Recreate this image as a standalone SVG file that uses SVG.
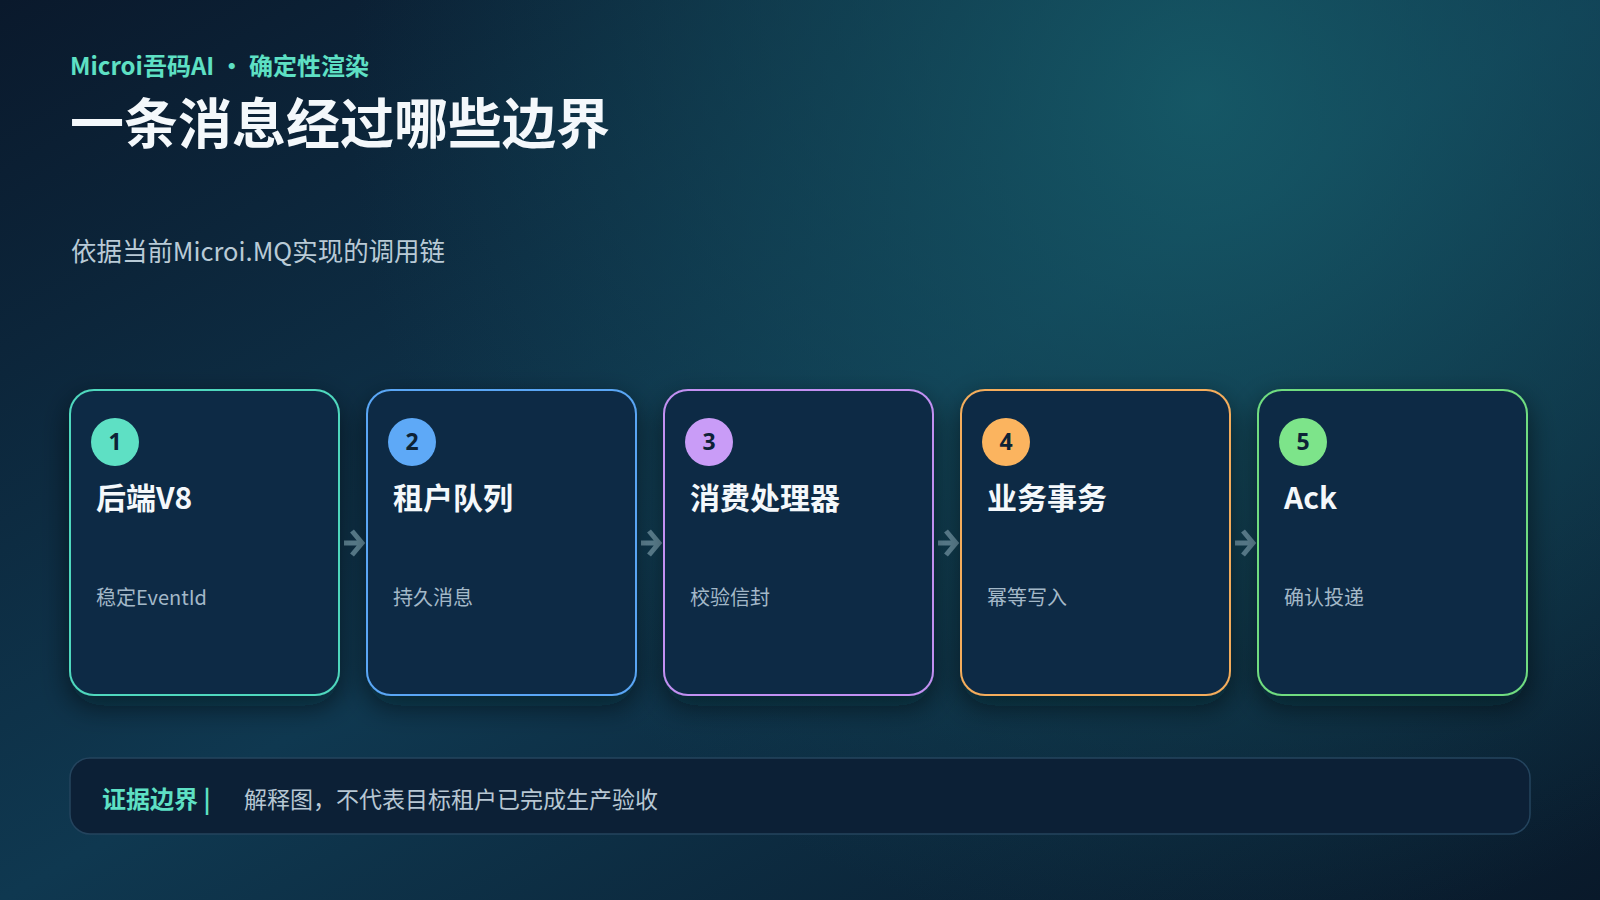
<svg xmlns="http://www.w3.org/2000/svg" width="1600" height="900" viewBox="0 0 1600 900">
  <defs>
    <linearGradient id="bg" x1="0" y1="0" x2="1" y2="1">
      <stop offset="0" stop-color="#0a192c"/>
      <stop offset="0.5" stop-color="#0f3850"/>
      <stop offset="1" stop-color="#09192a"/>
    </linearGradient>
    <radialGradient id="glow" cx="1200" cy="100" r="850" gradientUnits="userSpaceOnUse">
      <stop offset="0" stop-color="#17606c" stop-opacity="0.8"/>
      <stop offset="0.55" stop-color="#14505f" stop-opacity="0.45"/>
      <stop offset="1" stop-color="#124a5a" stop-opacity="0"/>
    </radialGradient>
    <filter id="shadow" x="-20%" y="-20%" width="140%" height="140%">
      <feDropShadow dx="0" dy="10" stdDeviation="14" flood-color="#020a14" flood-opacity="0.55"/>
    </filter>
    <style>
      .cjk { font-family: "Noto Sans CJK SC", "Noto Sans", sans-serif; }
      .card { fill: #0c2b45; stroke-width: 2; filter: url(#shadow); }
      .num { font-family: "Noto Sans", "Noto Sans CJK SC", sans-serif; font-weight: 700; font-size: 23px; fill: #0d2236; text-anchor: middle; }
      .title { font-family: "Noto Sans CJK SC", "Noto Sans", sans-serif; font-weight: 700; font-size: 30px; fill: #f4f8fb; }
      .sub { font-family: "Noto Sans CJK SC", "Noto Sans", sans-serif; font-size: 20px; fill: #a3b8c8; }
      .arrow { fill: none; stroke: #6790a2; stroke-width: 5; stroke-linecap: butt; stroke-linejoin: miter; }
    </style>
  </defs>

  <rect width="1600" height="900" fill="url(#bg)"/>
  <rect width="1600" height="900" fill="url(#glow)"/>

  <g id="header">
    <text x="70" y="75" class="cjk" font-size="24" font-weight="700" fill="#5ee0c4">Microi吾码AI • 确定性渲染</text>
    <text x="70" y="144" class="cjk" font-size="54" font-weight="700" fill="#f4f8fb">一条消息经过哪些边界</text>
    <text x="71" y="261" class="cjk" font-size="26" fill="#b9cad6" textLength="374" lengthAdjust="spacingAndGlyphs">依据当前Microi.MQ实现的调用链</text>
  </g>

  <g id="connectors">
    <g class="arrow">
      <path d="M344 543 H361 M352 531 L362 543 L352 555"/>
      <path d="M641 543 H658 M649 531 L659 543 L649 555"/>
      <path d="M938 543 H955 M946 531 L956 543 L946 555"/>
      <path d="M1235 543 H1252 M1243 531 L1253 543 L1243 555"/>
    </g>
  </g>

  <g id="node1">
    <rect class="card" x="70" y="390" width="269" height="305" rx="24" stroke="#4fd8be"/>
    <circle cx="115" cy="442" r="24" fill="#5ee0c4"/>
    <text x="115" y="450" class="num">1</text>
    <text x="96" y="509" class="title">后端V8</text>
    <text x="96" y="605" class="sub">稳定EventId</text>
  </g>

  <g id="node2">
    <rect class="card" x="367" y="390" width="269" height="305" rx="24" stroke="#5aa6f5"/>
    <circle cx="412" cy="442" r="24" fill="#5ea9f7"/>
    <text x="412" y="450" class="num">2</text>
    <text x="393" y="509" class="title">租户队列</text>
    <text x="393" y="605" class="sub">持久消息</text>
  </g>

  <g id="node3">
    <rect class="card" x="664" y="390" width="269" height="305" rx="24" stroke="#c290f2"/>
    <circle cx="709" cy="442" r="24" fill="#c99cf7"/>
    <text x="709" y="450" class="num">3</text>
    <text x="690" y="509" class="title">消费处理器</text>
    <text x="690" y="605" class="sub">校验信封</text>
  </g>

  <g id="node4">
    <rect class="card" x="961" y="390" width="269" height="305" rx="24" stroke="#f5ad5c"/>
    <circle cx="1006" cy="442" r="24" fill="#fbb45f"/>
    <text x="1006" y="450" class="num">4</text>
    <text x="987" y="509" class="title">业务事务</text>
    <text x="987" y="605" class="sub">幂等写入</text>
  </g>

  <g id="node5">
    <rect class="card" x="1258" y="390" width="269" height="305" rx="24" stroke="#70dc80"/>
    <circle cx="1303" cy="442" r="24" fill="#7de48a"/>
    <text x="1303" y="450" class="num">5</text>
    <text x="1284" y="509" class="title">Ack</text>
    <text x="1284" y="605" class="sub">确认投递</text>
  </g>

  <g id="evidence">
    <rect x="70" y="758" width="1460" height="76" rx="20" fill="#0c2036" stroke="#24445e" stroke-width="1.5"/>
    <text x="102" y="808" class="cjk" font-size="24" font-weight="700" fill="#5ee0c4">证据边界 |</text>
    <text x="244" y="808" class="cjk" font-size="23" fill="#b7c7d3">解释图，不代表目标租户已完成生产验收</text>
  </g>
</svg>
